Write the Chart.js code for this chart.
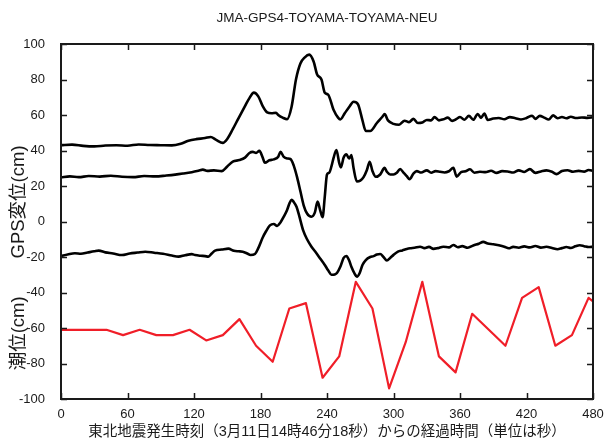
<!DOCTYPE html>
<html>
<head>
<meta charset="utf-8">
<script src="https://cdn.jsdelivr.net/npm/chart.js@4.4.1/dist/chart.umd.min.js"></script>
<style>
  html, body { margin: 0; padding: 0; background: #fff; }
  canvas { display: block; }
</style>
</head>
<body>
<canvas id="gps-chart" width="609" height="438"></canvas>
<script>
// seconds since the quake, and displacement / tide level in cm
var chartTitle = 'JMA-GPS4-TOYAMA-TOYAMA-NEU';
var xTitle = '東北地震発生時刻（3月11日14時46分18秒）からの経過時間（単位は秒）';
var gpsTitle = 'GPS変位(cm)';
var tideTitle = '潮位(cm)';
var xTicks = [0, 60, 120, 180, 240, 300, 360, 420, 480];
var yTicks = [-100, -80, -60, -40, -20, 0, 20, 40, 60, 80, 100];

var topT = [0, 10, 20, 30, 40, 50, 60, 70, 80, 90, 100, 108, 115, 122, 130, 135, 140, 146, 150, 155,
  160, 166, 170, 174, 178, 182, 186, 190, 194, 196, 200, 204, 208, 212, 216, 220, 224, 228, 231, 235,
  238, 241, 246, 250, 252, 256, 260, 264, 268, 272, 275, 279, 285, 290, 292, 295, 300, 305, 310, 314,
  318, 322, 326, 330, 334, 337, 341, 345, 349, 353, 357, 360, 364, 368, 372, 376, 379, 382, 385, 390,
  395, 400, 405, 410, 415, 420, 425, 428, 432, 436, 440, 444, 448, 452, 456, 460, 465, 470, 475, 480];
var topV = [43.0, 43.3, 42.6, 42.3, 42.8, 43.0, 42.7, 43.4, 43.1, 43.0, 42.9, 43.8, 45.5, 46.4, 47.0, 47.6, 46.0, 44.3, 46.5, 52,
  58, 65.0, 69.5, 72.6, 70.5, 65, 61.5, 61.0, 61.3, 60.0, 58.5, 57.6, 64.5, 80, 89, 92.5, 94, 90, 83, 80,
  72.5, 71.5, 62.8, 58.5, 57.5, 61, 64.5, 67.5, 66, 57, 51, 51, 55.5, 59, 60.5, 57, 55, 54.5, 56.8, 56,
  57.8, 55.5, 55.8, 57.2, 57, 58.8, 57, 57.6, 58.5, 56.7, 57.8, 58.9, 57.3, 59.5, 57.3, 60.6, 58.4, 60.8, 57.2, 58.0,
  58.3, 57.6, 58.8, 58.2, 57.5, 58.3, 59.6, 57.8, 59.5, 58.5, 57.5, 59.8, 58.2, 58.9, 58.2, 59.0, 58.3, 58.6, 58.4, 58.7];

var midT = [0, 8, 16, 25, 35, 45, 55, 65, 75, 85, 95, 103, 110, 118, 124, 128, 132, 138, 145, 150,
  155, 161, 166, 170, 173, 176, 179, 182, 184, 188, 192, 196, 198, 201, 204, 207, 210, 213, 216, 219,
  222, 226, 229, 231.5, 234, 236, 238, 240, 242, 244, 246, 248.5, 251, 252.5, 255, 257.5, 260, 262, 264, 267,
  270, 273, 276, 278.5, 281, 284, 288, 292, 294, 297, 300, 303, 306, 309, 312, 314.5, 318, 321, 325, 330,
  334, 338, 342, 346, 350, 354, 357, 361, 365, 369, 373, 378, 383, 388, 393, 398, 403, 408, 413, 418,
  423, 428, 433, 438, 443, 447, 452, 457, 462, 467, 472, 476, 480];
var midV = [24.9, 25.4, 25.0, 25.6, 25.3, 25.8, 25.2, 25.0, 25.6, 25.4, 25.9, 26.4, 27.0, 27.8, 28.6, 29.2, 28.5, 28.8, 28.4, 31.0,
  33.7, 34.6, 36.0, 38.6, 39.2, 38.6, 39.8, 36.0, 33.1, 34.5, 35.0, 36.5, 39.3, 36.4, 35.5, 35.2, 31.5, 25.0, 17.0, 9.0,
  4.5, 2.7, 5.0, 11.2, 6.0, 2.4, 14, 26.5, 27.5, 31, 36, 40.3, 33, 30.5, 36, 37.8, 35.5, 37.5, 30, 22.5,
  23, 25.0, 29, 33.7, 28.5, 25.2, 26.5, 30.2, 28, 26.5, 26.5, 27.5, 29.6, 27.5, 25.5, 23.8, 27, 28.4, 27.6, 28.8,
  27.5, 28.4, 28.0, 27.6, 28.3, 30.2, 25.3, 27.8, 28.3, 29.4, 27.5, 28.0, 27.8, 28.6, 27.4, 28.4, 28.2, 27.6, 28.8, 27.9,
  29.5, 27.4, 28.2, 28.8, 28.0, 26.7, 28.4, 28.9, 28.0, 28.5, 28.1, 29.0, 28.6];

var lowT = [0, 6, 12.5, 18, 24, 30, 34, 40, 47, 55, 62, 69, 76, 84, 92, 100, 106, 112, 118, 121,
  126, 130, 133, 136, 139, 145, 151, 156, 160, 164, 168, 171, 175, 178, 182, 185, 188.5, 192, 195, 198,
  201, 204, 206, 208, 210, 212.5, 215, 218.5, 222, 226, 230, 234, 238, 241, 244, 247, 249, 252, 255, 257.5,
  260, 262, 265, 267, 269.5, 272, 275, 279, 282, 285, 288, 291, 294, 297, 300, 304, 308, 312, 315, 319,
  324, 328, 332, 336, 340, 345, 350, 354, 358, 362, 367, 372, 377, 381, 385, 390, 395, 400, 404, 408,
  413, 418, 423, 428, 433, 438, 443, 448, 452, 456, 460, 464, 468, 472, 476, 480];
var lowV = [-19.4, -18.6, -17.9, -18.2, -17.5, -16.8, -16.4, -17.4, -18.0, -18.9, -18.0, -17.5, -17.0, -17.6, -18.2, -19.2, -19.8, -19.0, -18.4, -18.9,
  -19.3, -19.5, -19.8, -18.0, -16.4, -15.8, -15.3, -16.5, -16.8, -17.0, -18.0, -18.9, -18.3, -15, -9.0, -5.5, -2.2, -1.4, -2.5, -0.5,
  2.7, 6.5, 10, 12.2, 11, 8.3, 3, -5, -10, -14.2, -17.5, -21.0, -24.5, -27.5, -30.0, -29.8, -29.0, -25.5, -20.5, -19.4,
  -22, -25.5, -29.5, -31.1, -29, -24.5, -21.7, -20.0, -19.5, -18.6, -18.3, -20.0, -22.0, -20.5, -18.8, -17.0, -16.3, -15.5, -15.1, -14.8,
  -14.2, -15.0, -14.3, -15.4, -15.0, -14.2, -14.6, -13.2, -14.5, -13.9, -14.8, -13.5, -12.5, -11.5, -12.4, -12.8, -13.4, -14.2, -15.1, -14.3,
  -14.8, -14.0, -14.6, -13.8, -14.7, -14.2, -14.9, -15.6, -15.0, -14.4, -14.9, -14.0, -13.4, -13.9, -14.4, -14.2];

var tideT = [0, 11, 26, 41, 56, 71, 86, 101, 116, 131, 146, 161, 176, 191, 206, 221, 236, 251, 266, 281,
  296, 311, 326, 341, 356, 371, 386, 401, 416, 431, 446, 461, 476, 480];
var tideV = [-61, -61, -61, -61, -64, -61, -64, -64, -61, -67, -64, -55, -70, -79, -49, -46, -88, -76, -34, -49,
  -94, -68, -34, -76, -85, -52, -61, -70, -43, -37, -70, -64, -43, -45];

function pairs(ts, vs) {
  return ts.map(function (t, i) { return { x: t, y: vs[i] }; });
}

var FONT = '"Liberation Sans", Arial, "Noto Sans CJK JP", sans-serif';

// frame, inward tick marks, title and the two y titles
var framePlugin = {
  id: 'frame',
  afterDraw: function (chart) {
    var ctx = chart.ctx, a = chart.chartArea;
    var xs = chart.scales.x, ys = chart.scales.y;
    ctx.save();
    ctx.strokeStyle = '#1a1a1a';
    ctx.lineWidth = 1.5;
    ctx.beginPath();
    xTicks.forEach(function (t) {
      var px = Math.round(xs.getPixelForValue(t)) + 0.5;
      ctx.moveTo(px, a.bottom); ctx.lineTo(px, a.bottom - 6);
      ctx.moveTo(px, a.top); ctx.lineTo(px, a.top + 6);
    });
    yTicks.forEach(function (v) {
      var py = Math.round(ys.getPixelForValue(v)) + 0.5;
      ctx.moveTo(a.left, py); ctx.lineTo(a.left + 6, py);
      ctx.moveTo(a.right, py); ctx.lineTo(a.right - 6, py);
    });
    ctx.stroke();
    ctx.lineWidth = 2;
    ctx.strokeRect(a.left, a.top, a.right - a.left, a.bottom - a.top);

    ctx.fillStyle = '#1a1a1a';
    ctx.textAlign = 'center';
    ctx.textBaseline = 'middle';
    ctx.font = '13.5px ' + FONT;
    ctx.fillText(chartTitle, (a.left + a.right) / 2, 18);

    ctx.font = '18.5px ' + FONT;
    [[gpsTitle, 11], [tideTitle, -63]].forEach(function (d) {
      ctx.save();
      ctx.translate(19, ys.getPixelForValue(d[1]));
      ctx.rotate(-Math.PI / 2);
      ctx.fillText(d[0], 0, 0);
      ctx.restore();
    });
    ctx.restore();
  }
};

Chart.defaults.font.family = FONT;
Chart.defaults.color = '#1a1a1a';

var ctx = document.getElementById('gps-chart').getContext('2d');
var gpsChart = new Chart(ctx, {
  type: 'line',
  data: {
    datasets: [
      { data: pairs(topT, topV), borderColor: '#000', borderWidth: 2.6 },
      { data: pairs(midT, midV), borderColor: '#000', borderWidth: 2.6 },
      { data: pairs(lowT, lowV), borderColor: '#000', borderWidth: 2.6 },
      { data: pairs(tideT, tideV), borderColor: '#f01e28', borderWidth: 2.2, tension: 0, cubicInterpolationMode: 'default' }
    ]
  },
  options: {
    responsive: false,
    animation: false,
    devicePixelRatio: 1,
    layout: { padding: { top: 44, right: 16, left: 0, bottom: 0 } },
    elements: {
      point: { radius: 0 },
      line: { cubicInterpolationMode: 'monotone', borderJoinStyle: 'round', borderCapStyle: 'round' }
    },
    plugins: { legend: { display: false }, title: { display: false }, tooltip: { enabled: false } },
    scales: {
      x: {
        type: 'linear', min: 0, max: 480,
        afterBuildTicks: function (s) { s.ticks = xTicks.map(function (v) { return { value: v }; }); },
        afterFit: function (s) { s.height = 39; },
        grid: { display: false },
        border: { display: false },
        ticks: { font: { size: 13 }, padding: 0, maxRotation: 0 },
        title: { display: true, text: xTitle, font: { size: 14.5 }, padding: { top: 0, bottom: -3 } }
      },
      y: {
        min: -100, max: 100,
        afterBuildTicks: function (s) { s.ticks = yTicks.map(function (v) { return { value: v }; }); },
        afterFit: function (s) { s.width = 61; },
        grid: { display: false },
        border: { display: false },
        ticks: { font: { size: 13 }, padding: 8 }
      }
    }
  },
  plugins: [framePlugin]
});
</script>
</body>
</html>
